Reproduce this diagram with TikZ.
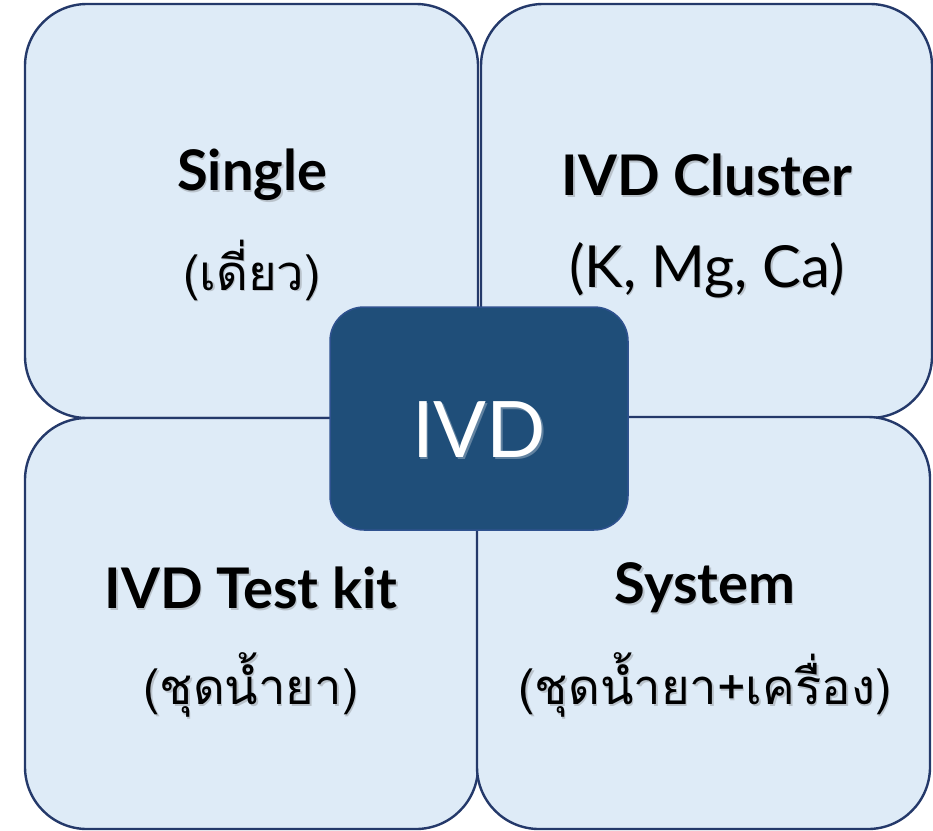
\documentclass[tikz,border=0pt]{standalone}
\usepackage{fontspec}
\setmainfont{Lato}
\newfontfamily\thaifont[Script=Thai]{Loma}
\usetikzlibrary{calc}
\definecolor{boxfill}{HTML}{DEEBF7}
\definecolor{boxline}{HTML}{24396A}
\definecolor{ctrfill}{HTML}{1F4E79}
\definecolor{ctrline}{HTML}{2F528F}
\newcommand\shtext[4]{%
  \node[txtshadow] (#1s) at ($(#2)+(1.5,1.5)$) {#3#4};
  \node[txt] (#1) at (#2) {#3#4};
}
\tikzset{
  quad/.style={draw=boxline, fill=boxfill, line width=2.4pt, rounded corners=62pt, inner sep=0pt},
  centre/.style={draw=ctrline, fill=ctrfill, line width=1.5pt, rounded corners=34pt, inner sep=0pt, minimum width=298pt, minimum height=223pt},
  txt/.style={inner sep=0pt, anchor=center, text=black},
  txtshadow/.style={inner sep=0pt, anchor=center, text=black!60, opacity=0.3},
}
\newcommand\ttl{\bfseries\fontsize{56}{60}\selectfont}
\newcommand\sub{\fontsize{58}{60}\selectfont}
\newcommand\thsub{\thaifont\fontsize{49}{60}\selectfont}
\begin{document}
\begin{tikzpicture}[x=1pt,y=-1pt]
\useasboundingbox (0,0) rectangle (933,830);
\node[quad, minimum width=453pt, minimum height=414pt] (tl) at (251.5,211) {};
\node[quad, minimum width=451pt, minimum height=414pt] (tr) at (706.5,211) {};
\node[quad, minimum width=453pt, minimum height=411pt] (bl) at (251.5,623.5) {};
\node[quad, minimum width=453pt, minimum height=412pt] (br) at (703.5,623) {};
\node[centre] (ivd) at (479,418.5) {};
\shtext{ivdt}{479,430}{\color{white}\fontsize{78}{80}\selectfont}{IVD}
\shtext{t1}{252,175}{\ttl}{Single}
\shtext{s1}{252,270}{\thsub}{(เดี่ยว)}
\shtext{t2}{707,175}{\ttl}{IVD Cluster}
\shtext{s2}{707,270}{\sub}{(K, Mg, Ca)}
\shtext{t3}{251,588}{\ttl}{IVD Test kit}
\shtext{s3}{251,685}{\thsub}{(ชุดน้ำยา)}
\shtext{t4}{705,588}{\ttl}{System}
\shtext{s4}{705,685}{\thsub}{(ชุดน้ำยา+เครื่อง)}
\end{tikzpicture}
\end{document}
